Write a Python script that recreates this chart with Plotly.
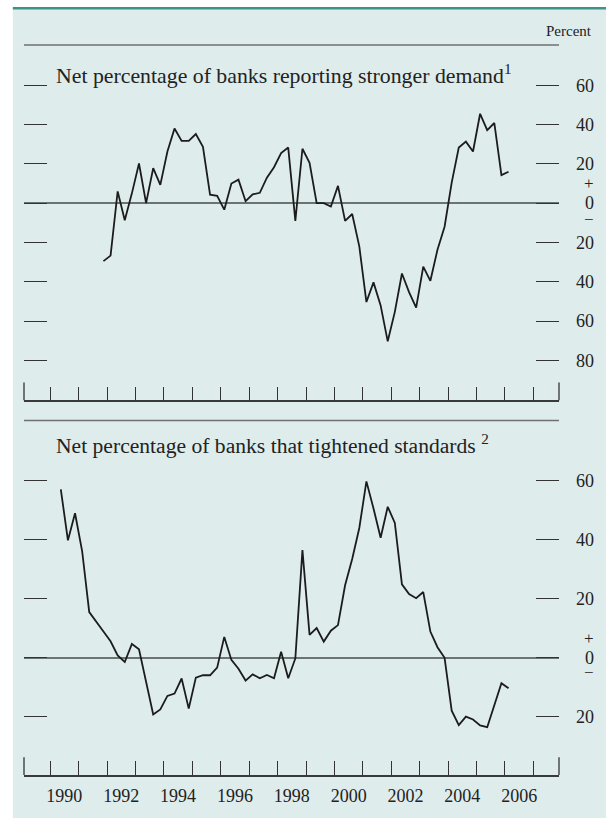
import pandas as pd
import plotly.graph_objects as go

# ---------------- data ----------------
# Top panel: net percentage of banks reporting stronger demand (quarterly)
demand_quarters = pd.period_range("1991Q4", "2006Q1", freq="Q")
demand_values = [
    -29.5, -26.7, 6.0, -8.7, 5.0, 20.2, 0.0, 17.8, 9.3, 26.3,
    38.0, 31.7, 31.7, 35.2, 28.7, 4.3, 3.7, -3.3, 10.0, 12.0,
    1.0, 4.5, 5.3, 13.0, 18.3, 25.5, 28.3, -9.0, 27.7, 20.5,
    0.0, 0.0, -1.7, 8.8, -9.0, -5.5, -22.0, -50.3, -40.3, -52.0,
    -70.3, -55.3, -35.8, -45.3, -53.2, -32.3, -39.5, -23.7, -12.0, 10.5,
    28.3, 31.3, 26.3, 45.5, 37.2, 40.8, 14.3, 16.0,
]

# Bottom panel: net percentage of banks that tightened standards (quarterly)
standards_quarters = pd.period_range("1990Q2", "2006Q1", freq="Q")
standards_values = [
    57.0, 39.7, 48.9, 36.1, 15.4, 12.3, 8.8, 5.5, 0.7, -1.5,
    4.6, 2.8, -8.2, -19.3, -17.6, -13.0, -12.2, -7.1, -17.3, -6.8,
    -6.0, -6.0, -3.4, 7.0, -0.8, -3.8, -7.8, -5.7, -7.0, -5.9,
    -7.0, 2.0, -7.0, -0.3, 36.4, 7.7, 10.0, 5.4, 9.1, 11.0,
    24.5, 33.4, 43.9, 59.7, 50.5, 40.6, 51.1, 45.6, 24.8, 21.5,
    20.1, 22.2, 8.8, 3.5, -0.1, -18.0, -22.9, -20.0, -21.0, -23.0,
    -23.6, -16.0, -8.7, -10.4,
]

year_bounds = list(range(1990, 2008))
year_labels = ["1990", "1992", "1994", "1996", "1998", "2000", "2002", "2004", "2006"]

top_tickvals = [60, 40, 20, 0, -20, -40, -60, -80]
top_ticktext = ["60", "40", "20", "\u20070", "20", "40", "60", "80"]
bot_tickvals = [60, 40, 20, 0, -20]
bot_ticktext = ["60", "40", "20", "\u20070", "20"]

title_top = "Net percentage of banks reporting stronger demand<sup>1</sup>"
title_bot = "Net percentage of banks that tightened standards <sup>2</sup>"


def quarter_mid(periods):
    return [p.year + (p.quarter - 0.5) / 4 for p in periods]


# ---------------- style ----------------
FONT = "Liberation Serif, Times New Roman, serif"
BG = "#deecec"
TEAL = "#3a9488"
INK = "#1c1c1c"
TICK = "#333333"
GRAY = "#6b7373"
X_RANGE = [1989.08, 2007.9]
TOP_DOM = [0.5132, 1.0]
BOT_DOM = [0.0, 0.4855]

fig = go.Figure()
fig.add_trace(go.Scatter(
    x=quarter_mid(demand_quarters), y=demand_values, mode="lines",
    line=dict(color=INK, width=1.8), xaxis="x", yaxis="y",
    showlegend=False, hoverinfo="skip"))
fig.add_trace(go.Scatter(
    x=quarter_mid(standards_quarters), y=standards_values, mode="lines",
    line=dict(color=INK, width=1.8), xaxis="x2", yaxis="y2",
    showlegend=False, hoverinfo="skip"))


def xaxis(anchor, labels):
    return dict(
        domain=[0, 1], anchor=anchor, range=X_RANGE,
        showline=True, linecolor="#3a3a3a", linewidth=1.5,
        ticks="", showgrid=False, zeroline=False,
        tickmode="array",
        tickvals=[int(y) + 0.5 for y in year_labels],
        ticktext=year_labels, showticklabels=labels,
        tickfont=dict(family=FONT, size=18, color="#222"),
        ticklabelstandoff=4,
        minor=dict(tickmode="array", tickvals=year_bounds, ticks="inside",
                   ticklen=14, tickwidth=1.3, tickcolor=TICK, showgrid=False),
    )


def yaxis(anchor, dom, rng, tv, tt):
    return dict(
        domain=dom, anchor=anchor, range=rng, side="right",
        ticks="inside", ticklen=23, tickwidth=1.3, tickcolor=TICK,
        mirror="ticks", showline=False, showgrid=False,
        tickmode="array", tickvals=tv, ticktext=tt,
        zeroline=True, zerolinecolor=GRAY, zerolinewidth=1.6,
        tickfont=dict(family=FONT, size=18, color="#222"),
        ticklabelstandoff=16,
    )


shapes = [
    # background panel
    dict(type="rect", xref="paper", yref="paper", x0=-0.0209, x1=1.12,
         y0=-0.06, y1=1.0505, fillcolor=BG, line=dict(width=0), layer="below"),
    # teal rule at top
    dict(type="line", xref="paper", yref="paper", x0=-0.0209, x1=1.12,
         y0=1.0505, y1=1.0505, line=dict(color=TEAL, width=2.5)),
    # top rules of each panel
    dict(type="line", xref="x domain", yref="y domain", x0=0, x1=1, y0=1, y1=1,
         line=dict(color="#707070", width=1.5)),
    dict(type="line", xref="x2 domain", yref="y2 domain", x0=0, x1=1, y0=1, y1=1,
         line=dict(color="#707070", width=1.5)),
]
# end ticks of the time axes
for xr, yr in (("x domain", "y domain"), ("x2 domain", "y2 domain")):
    for xe in (0, 1):
        shapes.append(dict(type="line", xref=xr, yref=yr, x0=xe, x1=xe, y0=0, y1=0.05,
                           line=dict(color=TICK, width=1.3)))

ann = [
    dict(text="Percent", xref="paper", yref="paper", x=1.0654, y=1.0188,
         xanchor="right", yanchor="middle", showarrow=False,
         font=dict(family=FONT, size=15, color="#222")),
    dict(text=title_top, xref="paper", yref="paper", x=0.056, y=0.9596,
         xanchor="left", yanchor="middle", showarrow=False,
         font=dict(family=FONT, size=21.8, color="#222")),
    dict(text=title_bot, xref="paper", yref="paper", x=0.056, y=0.4526,
         xanchor="left", yanchor="middle", showarrow=False,
         font=dict(family=FONT, size=21.6, color="#222")),
]
for yr, up, dn in (("y", 19.5, -16), ("y2", 19, -15)):
    ann.append(dict(text="+", xref="paper", yref=yr, x=1.057, y=0, yshift=up,
                    xanchor="center", yanchor="middle", showarrow=False,
                    font=dict(family=FONT, size=17, color="#222")))
    ann.append(dict(text="\u2212", xref="paper", yref=yr, x=1.057, y=0, yshift=dn,
                    xanchor="center", yanchor="middle", showarrow=False,
                    font=dict(family=FONT, size=17, color="#222")))

fig.update_layout(
    width=606, height=818, autosize=False,
    margin=dict(l=24, r=47, t=45, b=30, pad=0),
    paper_bgcolor="white", plot_bgcolor="rgba(0,0,0,0)",
    xaxis=xaxis("y", False),
    xaxis2=xaxis("y2", True),
    yaxis=yaxis("x", TOP_DOM, [-100.35, 80.5], top_tickvals, top_ticktext),
    yaxis2=yaxis("x2", BOT_DOM, [-39.8, 80.3], bot_tickvals, bot_ticktext),
    shapes=shapes, annotations=ann,
    font=dict(family=FONT, color="#222"),
)

fig.write_html("out.html", config={"displayModeBar": False},
               post_script="document.body.style.margin='0';")
